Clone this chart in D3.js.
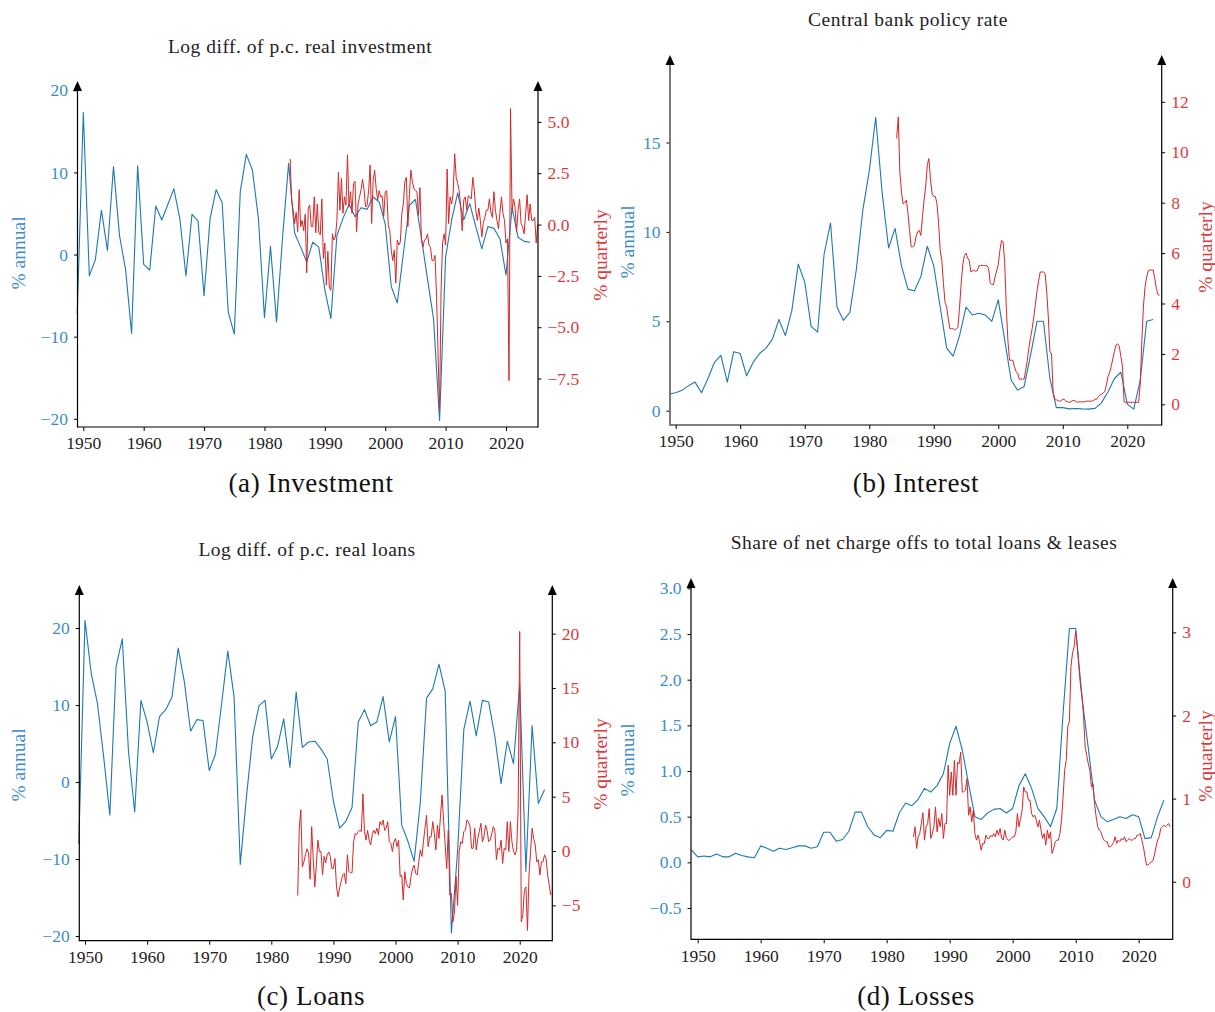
<!DOCTYPE html>
<html>
<head>
<meta charset="utf-8">
<script src="https://cdn.jsdelivr.net/npm/d3@7"></script>
<style>
  body { margin: 0; background: #fff; }
  svg, svg text { font-family: "Liberation Serif", "Times New Roman", serif !important; }
</style>
</head>
<body>
<svg id="fig" width="1215" height="1012"></svg>
<script>
// ---------- data ----------
const annualYears = d3.range(1949, 2025);          // 1949 … 2024
const quarterStart = 1984.25;                       // first quarterly observation
const decadeTicks = [1950, 1960, 1970, 1980, 1990, 2000, 2010, 2020];

// (a) log difference of per-capita real investment, %
const investAnnual = [-7.2, 17.3, -2.6, -0.6, 5.4, 0.5, 10.7, 2.3, -1.8, -9.6,
  10.8, -1.2, -1.9, 5.9, 4.2, 6.1, 8.0, 4.3, -2.6, 4.9,
  4.1, -5.0, 4.4, 7.9, 6.3, -7.0, -9.7, 7.7, 12.2, 10.3,
  4.4, -7.7, 1.0, -8.2, 2.1, 11.1, 2.6, 0.9, -0.9, 1.5,
  0.9, -4.3, -7.8, 2.3, 4.4, 6.1, 4.6, 5.7, 5.5, 7.0,
  6.4, 3.7, -3.9, -5.9, 0.1, 6.0, 6.7, 2.0, -3.0, -7.8,
  -20.2, -0.3, 4.2, 7.5, 4.2, 6.2, 3.4, 0.7, 3.4, 3.2,
  1.9, -2.5, 5.7, 2.1, 1.6, 1.5];
const investQuarterly = [3.2, 1.2, 0.7, 0.05, 0.6, -0.35, 1.7, -0.1, 0.2, -0.3,
  0.5, -2.35, 0.8, 0.95, -0.1, -0.1, 1.35, -0.4, 1.0, -0.4,
  -0.5, 1.25, -1.65, -0.9, -2.95, -1.3, -3.1, -3.2, -0.45, -0.75,
  -0.6, 0.2, 2.55, 0.7, 2.25, 0.55, 1.35, 0.95, 3.4, 0.85,
  1.6, 0.55, 2.0, 2.1, -0.35, 1.0, 1.35, 1.7, 2.2, 1.65,
  0.85, 0.95, 1.65, 2.9, 0.05, 2.15, 2.65, 1.75, 1.2, 1.65,
  1.35, 1.4, 0.4, 1.6, 1.65, 0.0, -0.3, -1.25, -1.75, -1.25,
  -2.85, -0.75, -1.0, -0.85, 0.55, 1.0, 2.1, 2.3, -0.1, 1.45,
  2.65, 2.1, 1.75, 1.65, 1.6, 0.45, 1.8, -0.75, -1.1, -0.75,
  -0.7, -0.45, -1.0, -1.1, -1.75, -1.75, -1.5, -3.5, -6.3, -9.0,
  -3.2, -0.9, -0.45, -1.0, 2.7, 0.05, 1.35, 1.0, 1.5, 3.45,
  2.3, 2.0, 1.65, 0.85, -0.3, 1.2, 1.35, 0.7, 1.4, 1.35,
  1.25, 2.3, 1.65, 0.7, 0.2, 0.8, 0.2, -0.6, 0.1, 0.35,
  0.7, 0.7, 1.25, 0.6, 0.35, 1.6, 0.7, 0.2, -0.2, 0.6,
  1.35, 0.55, 0.2, -0.9, -0.7, -7.6, 5.65, 0.7, 1.25, 0.85,
  -0.35, 0.7, 1.25, 0.05, -0.1, -0.45, 0.55, 1.45, 0.2, 1.0,
  0.2, 0.2, 0.35, -0.9, 0.0];

// (b) central bank policy rate, %
const rateAnnual = [0.93, 1.0, 1.15, 1.4, 1.6, 1.0, 1.8, 2.7, 3.1, 1.6,
  3.3, 3.2, 1.95, 2.7, 3.2, 3.5, 4.0, 5.1, 4.2, 5.6,
  8.2, 7.2, 4.7, 4.4, 8.75, 10.5, 5.8, 5.05, 5.5, 7.9,
  11.2, 13.4, 16.4, 12.2, 9.1, 10.2, 8.1, 6.8, 6.7, 7.5,
  9.2, 8.1, 5.8, 3.5, 3.05, 4.2, 5.8, 5.35, 5.45, 5.35,
  5.0, 6.2, 3.95, 1.7, 1.15, 1.35, 3.1, 5.0, 5.0, 1.8,
  0.17, 0.17, 0.1, 0.12, 0.1, 0.09, 0.13, 0.45, 1.05, 1.8,
  2.15, 0.37, 0.09, 1.7, 5.0, 5.1];
const rateQuarterly = [10.55, 11.4, 9.2, 8.4, 7.95, 8.0, 8.1, 7.6, 6.9, 6.25,
  6.25, 6.3, 6.65, 6.85, 6.9, 6.7, 7.45, 8.1, 8.65, 9.5,
  9.75, 8.9, 8.35, 8.25, 8.25, 7.95, 7.2, 6.1, 5.7, 4.8,
  4.05, 3.85, 3.4, 3.0, 3.0, 3.0, 2.95, 3.0, 3.05, 3.85,
  4.8, 5.55, 5.9, 6.0, 5.8, 5.7, 5.25, 5.3, 5.3, 5.28,
  5.3, 5.5, 5.5, 5.52, 5.5, 5.5, 5.5, 5.4, 4.8, 4.75,
  4.75, 5.05, 5.3, 5.55, 6.1, 6.5, 6.45, 5.6, 3.8, 2.5,
  1.75, 1.75, 1.75, 1.5, 1.3, 1.25, 1.0, 1.0, 1.0, 1.0,
  1.35, 1.75, 2.25, 2.65, 3.0, 3.45, 3.95, 4.5, 4.9, 5.25,
  5.25, 5.25, 5.2, 4.5, 3.5, 2.1, 2.0, 0.5, 0.18, 0.18,
  0.15, 0.12, 0.15, 0.2, 0.2, 0.12, 0.1, 0.08, 0.1, 0.15,
  0.15, 0.12, 0.08, 0.1, 0.1, 0.09, 0.1, 0.11, 0.13, 0.13,
  0.12, 0.13, 0.15, 0.2, 0.2, 0.3, 0.38, 0.4, 0.45, 0.5,
  0.75, 1.1, 1.25, 1.5, 1.8, 2.1, 2.35, 2.4, 2.3, 1.9,
  1.5, 0.1, 0.08, 0.08, 0.08, 0.08, 0.08, 0.08, 0.08, 0.08,
  0.08, 0.8, 2.5, 3.9, 4.65, 5.05, 5.3, 5.33, 5.33, 5.33,
  5.0, 4.6, 4.35, 4.33];

// (c) log difference of per-capita real loans, %
const loansAnnual = [-8.0, 21.0, 14.1, 10.2, 3.3, -4.3, 15.0, 18.6, 4.0, -3.9,
  10.6, 7.8, 3.8, 8.5, 9.4, 11.0, 17.4, 13.0, 6.6, 8.1,
  8.0, 1.5, 3.6, 10.2, 17.0, 11.1, -10.7, -1.9, 5.9, 9.9,
  10.6, 3.0, 4.6, 8.2, 1.9, 11.7, 4.5, 5.2, 5.3, 4.3,
  3.0, -2.5, -6.0, -5.1, -3.3, 7.8, 9.4, 7.3, 7.8, 11.1,
  5.2, 8.5, -5.6, -7.7, -10.3, -2.6, 10.9, 12.1, 15.3, 11.8,
  -19.6, -9.0, 6.8, 10.5, 6.0, 10.6, 10.4, 5.9, -0.2, 5.3,
  2.4, 12.7, -11.6, 7.3, -2.8, -1.0];
const loansQuarterly = [-4.1, 2.1, 3.8, -1.45, -1.0, -0.35, 0.2, -0.2, -2.6, 2.25,
  -0.7, -3.3, -1.3, 1.0, -0.05, -0.05, -2.2, -0.5, -1.1, -0.35,
  -0.1, -0.5, -1.6, -1.6, -0.7, -3.3, -4.2, -3.4, -2.8, -2.2,
  -2.05, -3.0, -0.35, -1.9, -2.0, -2.0, 0.85, 1.6, 1.5, 1.8,
  1.9, 1.8, 5.25, 1.8, 1.0, 1.9, 1.0, 0.55, 1.5, 1.9,
  1.6, 2.1, 1.5, 2.7, 2.4, 2.85, 1.9, 2.1, 2.7, 0.85,
  0.7, -0.05, 0.85, 1.15, 0.4, 1.0, -2.35, -2.2, -4.5, -1.9,
  -3.0, -3.3, -3.4, -2.35, -1.6, -1.3, -2.05, -2.2, -1.0, 0.1,
  -0.5, 0.85, 2.1, 3.3, 0.4, 1.3, 1.3, 2.7, 1.6, 0.1,
  2.4, 1.15, 3.3, 5.15, 2.7, 0.55, -1.6, 1.9, -4.05, -3.9,
  -6.5, -5.6, -2.35, -5.0, -0.05, 0.85, 0.7, 1.8, 1.9, 2.85,
  2.7, 2.25, 0.25, 0.25, 2.1, 0.1, 1.15, 1.8, 2.55, 0.85,
  1.3, 2.4, 1.9, 0.85, 1.0, 1.6, 2.25, 1.9, -0.8, 0.25,
  0.1, 1.0, -1.15, 0.25, 0.1, 2.7, -0.05, 2.7, 0.85, -0.05,
  -0.35, 0.1, 3.9, 20.2, -6.5, -5.9, -3.6, -3.3, -7.3, -2.2,
  -0.05, 2.1, 1.15, 0.55, -1.0, -0.8, -2.2, -1.0, -1.0, -0.35,
  -0.7, -2.2, -3.1, -4.05];

// (d) share of net charge-offs to total loans & leases, %
const lossesAnnual = [0.135, 0.06, 0.07, 0.06, 0.09, 0.06, 0.06, 0.1, 0.075, 0.06,
  0.05, 0.18, 0.155, 0.12, 0.155, 0.14, 0.16, 0.18, 0.18, 0.155,
  0.17, 0.33, 0.33, 0.23, 0.25, 0.34, 0.55, 0.55, 0.39, 0.3,
  0.27, 0.35, 0.34, 0.54, 0.65, 0.62, 0.69, 0.81, 0.77, 0.84,
  0.97, 1.3, 1.49, 1.23, 0.86, 0.5, 0.47, 0.54, 0.58, 0.59,
  0.54, 0.59, 0.84, 0.97, 0.81, 0.59, 0.5, 0.39, 0.59, 1.63,
  2.56, 2.56, 1.81, 1.25, 0.68, 0.5, 0.445, 0.47, 0.5, 0.48,
  0.52, 0.5, 0.26, 0.27, 0.5, 0.68];
const lossesQuarterly = [0.54, 0.66, 0.4, 0.54, 0.58, 0.7, 0.83, 0.5, 0.66, 0.7,
  0.88, 0.52, 0.58, 0.66, 0.9, 0.6, 0.76, 0.66, 0.82, 0.52,
  0.7, 0.7, 1.4, 1.04, 1.32, 1.04, 1.46, 1.04, 1.44, 1.42,
  1.56, 1.08, 1.08, 1.1, 1.24, 0.8, 0.9, 0.72, 0.86, 0.58,
  0.5, 0.56, 0.48, 0.38, 0.46, 0.46, 0.56, 0.52, 0.52, 0.56,
  0.54, 0.58, 0.54, 0.62, 0.56, 0.64, 0.52, 0.5, 0.62, 0.52,
  0.5, 0.5, 0.52, 0.54, 0.54, 0.6, 0.82, 0.66, 0.76, 0.86,
  1.14, 1.08, 1.08, 0.98, 0.98, 0.82, 0.78, 0.8, 0.74, 0.66,
  0.74, 0.62, 0.52, 0.58, 0.44, 0.62, 0.52, 0.6, 0.34, 0.4,
  0.48, 0.5, 0.5, 0.58, 0.74, 1.02, 1.34, 1.46, 1.87, 1.93,
  2.59, 2.75, 2.83, 3.01, 2.83, 2.59, 2.37, 2.23, 1.99, 1.62,
  1.52, 1.42, 1.34, 1.14, 1.18, 0.94, 0.78, 0.66, 0.62, 0.6,
  0.54, 0.5, 0.48, 0.48, 0.42, 0.42, 0.44, 0.47, 0.54, 0.46,
  0.5, 0.48, 0.52, 0.5, 0.54, 0.48, 0.5, 0.52, 0.5,
  0.5, 0.52, 0.52, 0.56, 0.56, 0.58, 0.5, 0.42, 0.3, 0.2,
  0.2, 0.22, 0.24, 0.25, 0.32, 0.42, 0.5, 0.54, 0.64, 0.66,
  0.68, 0.66, 0.68, 0.7, 0.66];

// tick values
const investLeftTicks = [-20, -10, 0, 10, 20];
const investRightTicks = [-7.5, -5, -2.5, 0, 2.5, 5];
const rateLeftTicks = [0, 5, 10, 15];
const rateRightTicks = [0, 2, 4, 6, 8, 10, 12];
const loansLeftTicks = [-20, -10, 0, 10, 20];
const loansRightTicks = [-5, 0, 5, 10, 15, 20];
const lossesLeftTicks = [-0.5, 0, 0.5, 1, 1.5, 2, 2.5, 3];
const lossesRightTicks = [0, 1, 2, 3];

// ---------- styling ----------
const BLUE = "#1f77b4", RED = "#d62728";
const BLUE_TXT = "#3b8ccb", RED_TXT = "#e0393b";
const SERIF = '"Liberation Serif", "Times New Roman", serif';

const svg = d3.select("#fig");

const panels = [
  { title: "Log diff. of p.c. real investment", caption: "(a) Investment",
    annual: investAnnual, quarterly: investQuarterly,
    box: { left: 77.5, right: 538, top: 87, bottom: 427 },
    xDomain: [1949.04, 2025.3], leftDomain: [-21.0, 20.4], rightDomain: [-9.86, 6.70],
    leftTicks: investLeftTicks, rightTicks: investRightTicks,
    leftFmt: d3.format("d"), rightFmt: d3.format(".1f"),
    titleXY: [300, 53], captionXY: [311, 492], annualXY: [18, 253], quarterXY: [600, 255] },
  { title: "Central bank policy rate", caption: "(b) Interest",
    annual: rateAnnual, quarterly: rateQuarterly,
    box: { left: 670, right: 1161.7, top: 61, bottom: 425 },
    xDomain: [1949.12, 2025.33], leftDomain: [-0.80, 19.56], rightDomain: [-0.82, 13.62],
    leftTicks: rateLeftTicks, rightTicks: rateRightTicks,
    leftFmt: d3.format("d"), rightFmt: d3.format("d"),
    titleXY: [908, 26], captionXY: [916, 492], annualXY: [627, 242], quarterXY: [1205, 247],
    leftSpineColor: "#6b6b6b" },
  { title: "Log diff. of p.c. real loans", caption: "(c) Loans",
    annual: loansAnnual, quarterly: loansQuarterly,
    box: { left: 79.3, right: 552.3, top: 591, bottom: 940.7 },
    xDomain: [1949.08, 2025.25], leftDomain: [-20.61, 24.81], rightDomain: [-8.25, 23.92],
    leftTicks: loansLeftTicks, rightTicks: loansRightTicks,
    leftFmt: d3.format("d"), rightFmt: d3.format("d"),
    titleXY: [307, 556], captionXY: [311, 1005], annualXY: [18, 765], quarterXY: [600, 764] },
  { title: "Share of net charge offs to total loans & leases", caption: "(d) Losses",
    annual: lossesAnnual, quarterly: lossesQuarterly,
    box: { left: 691, right: 1172.7, top: 584, bottom: 939.3 },
    xDomain: [1948.94, 2025.4], leftDomain: [-0.843, 3.048], rightDomain: [-0.693, 3.582],
    leftTicks: lossesLeftTicks, rightTicks: lossesRightTicks,
    leftFmt: d3.format(".1f"), rightFmt: d3.format("d"),
    titleXY: [924, 549], captionXY: [916, 1005], annualXY: [627, 760], quarterXY: [1205, 756] }
];

function arrowHead(g, x, yTip) {
  g.append("path")
    .attr("d", `M${x},${yTip} L${x - 4.5},${yTip + 10} L${x + 4.5},${yTip + 10} Z`)
    .attr("fill", "#000");
}

function styleTicks(sel, color) {
  sel.attr("font-family", SERIF);
  sel.selectAll("text").attr("font-size", 17.5).attr("fill", color)
    .style("font-family", SERIF);
}

function drawPanel(p) {
  const b = p.box;
  const g = svg.append("g").style("font-family", SERIF);
  const x = d3.scaleLinear().domain(p.xDomain).range([b.left, b.right]);
  const yL = d3.scaleLinear().domain(p.leftDomain).range([b.bottom, b.top]);
  const yR = d3.scaleLinear().domain(p.rightDomain).range([b.bottom, b.top]);

  const annualPts = p.annual.map((v, i) => [annualYears[i], v]);
  const quarterPts = p.quarterly.map((v, i) => [quarterStart + i * 0.25, v]);

  // series: annual on the left scale, quarterly on the right scale
  g.append("path").datum(annualPts)
    .attr("d", d3.line().x(d => x(d[0])).y(d => yL(d[1])))
    .attr("fill", "none").attr("stroke", BLUE).attr("stroke-width", 1.1)
    .attr("stroke-linejoin", "round");
  g.append("path").datum(quarterPts)
    .attr("d", d3.line().x(d => x(d[0])).y(d => yR(d[1])))
    .attr("fill", "none").attr("stroke", RED).attr("stroke-width", 1.0)
    .attr("stroke-linejoin", "round");

  // bottom axis
  const gx = g.append("g").attr("transform", `translate(0,${b.bottom})`)
    .call(d3.axisBottom(x).tickValues(decadeTicks).tickFormat(d3.format("d"))
      .tickSize(4).tickPadding(6).tickSizeOuter(0));
  gx.select(".domain").remove();
  styleTicks(gx, "#222");

  // left axis
  const gl = g.append("g").attr("transform", `translate(${b.left},0)`)
    .call(d3.axisLeft(yL).tickValues(p.leftTicks).tickFormat(p.leftFmt)
      .tickSize(3.5).tickPadding(6).tickSizeOuter(0));
  gl.select(".domain").remove();
  styleTicks(gl, BLUE_TXT);

  // right axis
  const gr = g.append("g").attr("transform", `translate(${b.right},0)`)
    .call(d3.axisRight(yR).tickValues(p.rightTicks).tickFormat(p.rightFmt)
      .tickSize(3.5).tickPadding(6).tickSizeOuter(0));
  gr.select(".domain").remove();
  styleTicks(gr, RED_TXT);

  // spines with arrow heads on the vertical axes
  const tip = b.top - 6;
  g.append("line").attr("x1", b.left).attr("x2", b.right)
    .attr("y1", b.bottom).attr("y2", b.bottom)
    .attr("stroke", "#000").attr("stroke-width", 1.2);
  g.append("line").attr("x1", b.left).attr("x2", b.left)
    .attr("y1", b.bottom + 0.6).attr("y2", tip + 4)
    .attr("stroke", p.leftSpineColor || "#000")
    .attr("stroke-width", p.leftSpineColor ? 1.8 : 1.2);
  g.append("line").attr("x1", b.right).attr("x2", b.right)
    .attr("y1", b.bottom + 0.6).attr("y2", tip + 4)
    .attr("stroke", "#000").attr("stroke-width", 1.2);
  arrowHead(g, b.left, tip);
  arrowHead(g, b.right, tip);

  // texts
  g.append("text").attr("x", p.titleXY[0]).attr("y", p.titleXY[1])
    .attr("text-anchor", "middle").attr("font-size", 19.5).attr("fill", "#222")
    .attr("letter-spacing", 0.5).style("font-family", SERIF)
    .text(p.title);
  g.append("text").attr("x", p.captionXY[0]).attr("y", p.captionXY[1])
    .attr("text-anchor", "middle").attr("font-size", 27).attr("fill", "#111")
    .attr("letter-spacing", 0.6).style("font-family", SERIF)
    .text(p.caption);
  g.append("text")
    .attr("transform", `translate(${p.annualXY[0]},${p.annualXY[1]}) rotate(-90)`)
    .attr("text-anchor", "middle").attr("dominant-baseline", "central")
    .attr("font-size", 19.5).attr("fill", BLUE_TXT).style("font-family", SERIF)
    .text("% annual");
  g.append("text")
    .attr("transform", `translate(${p.quarterXY[0]},${p.quarterXY[1]}) rotate(-90)`)
    .attr("text-anchor", "middle").attr("dominant-baseline", "central")
    .attr("font-size", 19.5).attr("fill", RED_TXT).style("font-family", SERIF)
    .text("% quarterly");
}

panels.forEach(drawPanel);
</script>
</body>
</html>
